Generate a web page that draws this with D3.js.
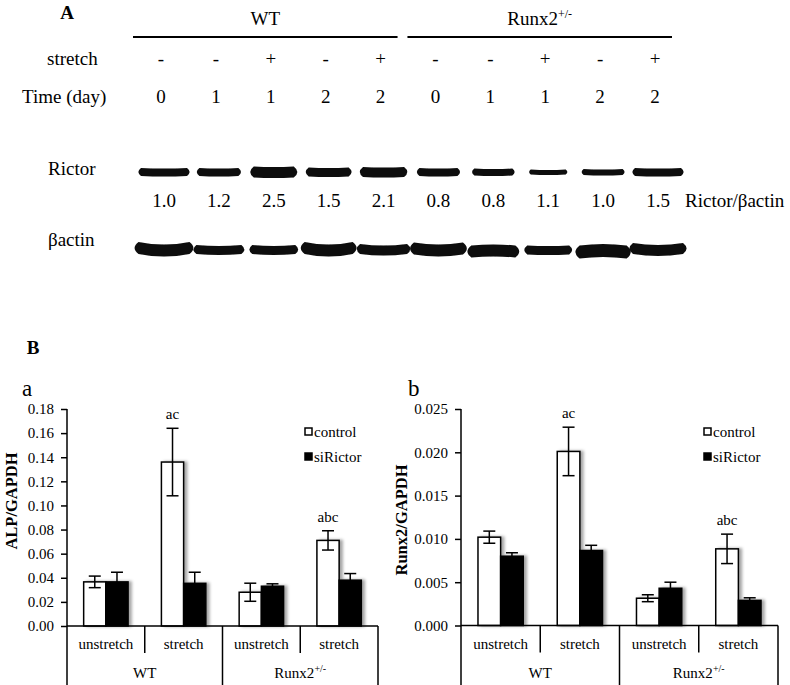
<!DOCTYPE html>
<html><head><meta charset="utf-8">
<script src="https://cdn.jsdelivr.net/npm/d3@7"></script>
<style>
body{margin:0;background:#fff}
svg{display:block}
text{font-family:"Liberation Serif","Times New Roman",serif;fill:#000}
</style></head>
<body><svg id="c" width="790" height="685" font-family="Liberation Serif, Times New Roman, serif"></svg>
<script>
// ---------- Panel A data ----------
const strains = ["WT", "Runx2"];
const stretchRow = ["-", "-", "+", "-", "+", "-", "-", "+", "-", "+"];
const timeRow = ["0", "1", "1", "2", "2", "0", "1", "1", "2", "2"];
const rictorRatio = ["1.0", "1.2", "2.5", "1.5", "2.1", "0.8", "0.8", "1.1", "1.0", "1.5"];
const rictorThick = [8, 8, 11, 9, 10, 8, 7, 5, 6, 8];
const rictorWidth = [46, 39, 40, 40, 41, 38, 38, 35, 39, 46];
const actinThick = [12, 9, 9, 12, 10, 12, 12, 9, 13, 11];
const actinWidth = [51, 45, 43, 48, 47, 49, 44, 42, 47, 50];
const actinCurve = [2.5, 1, 1, 2.5, 1.5, 2, -1, 0.5, -1.5, 2];

// ---------- Panel B data ----------
const categories = ["unstretch", "stretch", "unstretch", "stretch"];
const series = ["control", "siRictor"];
const alpControl = [0.0366, 0.136, 0.028, 0.071];
const alpControlErr = [0.0048, 0.028, 0.0075, 0.008];
const alpSi = [0.0366, 0.0354, 0.0330, 0.0380];
const alpSiErr = [0.0080, 0.0092, 0.0020, 0.0055];
const runxControl = [0.0102, 0.0201, 0.00315, 0.00885];
const runxControlErr = [0.0007, 0.0028, 0.0004, 0.0017];
const runxSi = [0.0080, 0.00866, 0.0043, 0.0029];
const runxSiErr = [0.0004, 0.0006, 0.0007, 0.0003];
const annotations = ["", "ac", "", "abc"];
const alpTicks = [0, 0.02, 0.04, 0.06, 0.08, 0.10, 0.12, 0.14, 0.16, 0.18];
const runxTicks = [0, 0.005, 0.010, 0.015, 0.020, 0.025];

const svg = d3.select("#c");
const defs = svg.append("defs");
defs.append("filter").attr("id", "blur").attr("x", "-20%").attr("y", "-50%").attr("width", "140%").attr("height", "200%")
  .append("feGaussianBlur").attr("stdDeviation", 0.6);
const sh = defs.append("filter").attr("id", "sh").attr("x", "-20%").attr("y", "-10%").attr("width", "160%").attr("height", "120%");
sh.append("feDropShadow").attr("dx", 3).attr("dy", 0).attr("stdDeviation", 1.6)
  .attr("flood-color", "#000").attr("flood-opacity", 0.35);

// ================= PANEL A =================
const lane = d3.scalePoint().domain(d3.range(10)).range([164, 658]);
const FS = 19;

svg.append("text").attr("x", 67).attr("y", 19).attr("text-anchor", "middle")
  .attr("font-weight", "bold").attr("font-size", FS).text("A");

const strainGroups = [[0, 4], [5, 9]];
strainGroups.forEach((g, i) => {
  const xa = lane(g[0]) - 31, xb = lane(g[1]) + 14;
  svg.append("line").attr("x1", xa).attr("x2", xb).attr("y1", 37).attr("y2", 37)
    .attr("stroke", "#000").attr("stroke-width", 2);
  const t = svg.append("text").attr("x", (xa + xb) / 2).attr("y", 25)
    .attr("text-anchor", "middle").attr("font-size", FS);
  if (strains[i] === "WT") t.text("WT");
  else {
    t.append("tspan").text("Runx2");
    t.append("tspan").attr("font-size", 12).attr("dy", -7).text("+/-");
  }
});

svg.append("text").attr("x", 47).attr("y", 65).attr("font-size", FS).text("stretch");
svg.append("text").attr("x", 22).attr("y", 103).attr("font-size", FS).text("Time (day)");
svg.append("g").selectAll("text").data(stretchRow).join("text")
  .attr("x", (d, i) => lane(i) - 3).attr("y", 65).attr("text-anchor", "middle")
  .attr("font-size", FS).text(d => d);
svg.append("g").selectAll("text").data(timeRow).join("text")
  .attr("x", (d, i) => lane(i) - 3).attr("y", 103).attr("text-anchor", "middle")
  .attr("font-size", FS).text(d => d);

svg.append("text").attr("x", 48).attr("y", 175).attr("font-size", FS).text("Rictor");
svg.append("text").attr("x", 48).attr("y", 246).attr("font-size", FS).text("βactin");

function bandPath(cx, cy, w, t, c) {
  const x0 = cx - w / 2, x1 = cx + w / 2, r = t / 2;
  const p = d3.path();
  p.moveTo(x0, cy - c - r);
  p.quadraticCurveTo(cx, cy + c - r, x1, cy - c - r);
  p.quadraticCurveTo(x1 + r * 1.3, cy - c, x1, cy - c + r);
  p.quadraticCurveTo(cx, cy + c + r, x0, cy - c + r);
  p.quadraticCurveTo(x0 - r * 1.3, cy - c, x0, cy - c - r);
  p.closePath();
  return p.toString();
}

const blot = svg.append("g").attr("filter", "url(#blur)").attr("fill", "#0c0c0c");
blot.selectAll("path.r").data(rictorThick).join("path").attr("class", "r")
  .attr("d", (t, i) => bandPath(lane(i), 172.5, rictorWidth[i], t, 0.6));
blot.selectAll("path.a").data(actinThick).join("path").attr("class", "a")
  .attr("d", (t, i) => bandPath(lane(i), 250.5, actinWidth[i], t, actinCurve[i]));

svg.append("g").selectAll("text").data(rictorRatio).join("text")
  .attr("x", (d, i) => lane(i)).attr("y", 207).attr("text-anchor", "middle")
  .attr("font-size", FS).text(d => d);
svg.append("text").attr("x", 685).attr("y", 207).attr("font-size", FS).text("Rictor/βactin");

svg.append("text").attr("x", 33).attr("y", 354).attr("text-anchor", "middle")
  .attr("font-weight", "bold").attr("font-size", FS).text("B");

// ================= PANEL B =================
function drawChart(o) {
  const g = svg.append("g");
  const y = d3.scaleLinear().domain([0, o.max]).range([o.yBase, o.yTop]);
  const x = d3.scaleBand().domain(d3.range(4)).range([o.x0, o.x1]).paddingInner(0).paddingOuter(0);
  const xs = d3.scaleBand().domain(series).range([0, x.bandwidth()]).paddingInner(0).paddingOuter(0.75);

  g.append("text").attr("x", o.letterX).attr("y", 396).attr("font-size", 23).text(o.letter);

  const ax = g.append("g").attr("transform", `translate(${o.x0},0)`)
    .call(d3.axisLeft(y).tickValues(o.ticks).tickFormat(d3.format(o.fmt)).tickSize(6).tickPadding(7));
  ax.attr("font-family", null).attr("font-size", null);
  ax.select(".domain").remove();
  ax.selectAll(".tick line").attr("stroke", "#000").attr("stroke-width", 1.5);
  ax.selectAll(".tick text").attr("font-size", 15).attr("fill", "#000");

  g.append("text").attr("transform", `translate(${o.labelX},${o.labelY}) rotate(-90)`)
    .attr("text-anchor", "middle").attr("dy", "0.35em")
    .attr("font-weight", "bold").attr("font-size", 16.5).text(o.ylabel);

  const data = [];
  categories.forEach((c, i) => {
    data.push({ i, s: "control", v: o.control[i], e: o.controlErr[i] });
    data.push({ i, s: "siRictor", v: o.si[i], e: o.siErr[i] });
  });
  const bars = g.append("g").attr("filter", "url(#sh)");
  bars.selectAll("rect").data(data).join("rect")
    .attr("x", d => x(d.i) + xs(d.s)).attr("width", xs.bandwidth())
    .attr("y", d => y(d.v)).attr("height", d => y(0) - y(d.v))
    .attr("fill", d => d.s === "control" ? "#fff" : "#000")
    .attr("stroke", "#000").attr("stroke-width", 1.5);

  const eb = g.append("g").attr("stroke", "#000").attr("stroke-width", 1.5);
  data.forEach(d => {
    const cx = x(d.i) + xs(d.s) + xs.bandwidth() / 2;
    eb.append("line").attr("x1", cx).attr("x2", cx).attr("y1", y(d.v + d.e)).attr("y2", y(d.v - d.e));
    [d.v + d.e, d.v - d.e].forEach(v => eb.append("line")
      .attr("x1", cx - 6).attr("x2", cx + 6).attr("y1", y(v)).attr("y2", y(v)));
  });

  g.selectAll("text.ann").data(annotations).join("text").attr("class", "ann")
    .attr("x", (d, i) => x(i) + xs("control") + xs.bandwidth() / 2)
    .attr("y", (d, i) => y(o.control[i] + o.controlErr[i]) - 9)
    .attr("text-anchor", "middle").attr("font-size", 15).text(d => d);

  const ln = g.append("g").attr("stroke", "#000").attr("stroke-width", 1.5);
  ln.append("line").attr("x1", o.x0).attr("x2", o.x0).attr("y1", o.yTop).attr("y2", 685);
  ln.append("line").attr("x1", o.x0).attr("x2", o.x1).attr("y1", o.yBase).attr("y2", o.yBase);
  [1, 2, 3, 4].forEach(k => {
    const xx = k < 4 ? x(k) : o.x1;
    ln.append("line").attr("x1", xx).attr("x2", xx).attr("y1", o.yBase)
      .attr("y2", k % 2 === 0 ? 685 : o.yBase + 27);
  });

  g.selectAll("text.cat").data(categories).join("text").attr("class", "cat")
    .attr("x", (d, i) => x(i) + x.bandwidth() / 2).attr("y", o.yBase + 23)
    .attr("text-anchor", "middle").attr("font-size", 15).text(d => d);
  strains.forEach((s, k) => {
    const t = g.append("text").attr("x", x(2 * k + 1)).attr("y", o.yBase + 52)
      .attr("text-anchor", "middle").attr("font-size", 15);
    if (s === "WT") t.text("WT");
    else {
      t.append("tspan").text("Runx2");
      t.append("tspan").attr("font-size", 10).attr("dy", -6).text("+/-");
    }
  });

  const lg = g.append("g");
  series.forEach((s, k) => {
    const yy = 432 + k * 25;
    lg.append("rect").attr("x", o.legX).attr("y", yy - 4).attr("width", 7).attr("height", 7)
      .attr("fill", s === "control" ? "#fff" : "#000").attr("stroke", "#000").attr("stroke-width", 1.5);
    lg.append("text").attr("x", o.legX + 9).attr("y", yy + 5).attr("font-size", 15).text(s);
  });
}

drawChart({
  x0: 67, x1: 378, yTop: 409, yBase: 626, max: 0.18, ticks: alpTicks, fmt: ".2f",
  control: alpControl, controlErr: alpControlErr, si: alpSi, siErr: alpSiErr,
  ylabel: "ALP/GAPDH", labelX: 11, labelY: 501, letter: "a", letterX: 22, legX: 305
});
drawChart({
  x0: 461, x1: 778, yTop: 409, yBase: 625.5, max: 0.025, ticks: runxTicks, fmt: ".3f",
  control: runxControl, controlErr: runxControlErr, si: runxSi, siErr: runxSiErr,
  ylabel: "Runx2/GAPDH", labelX: 401, labelY: 520, letter: "b", letterX: 408, legX: 704
});
</script></body></html>
